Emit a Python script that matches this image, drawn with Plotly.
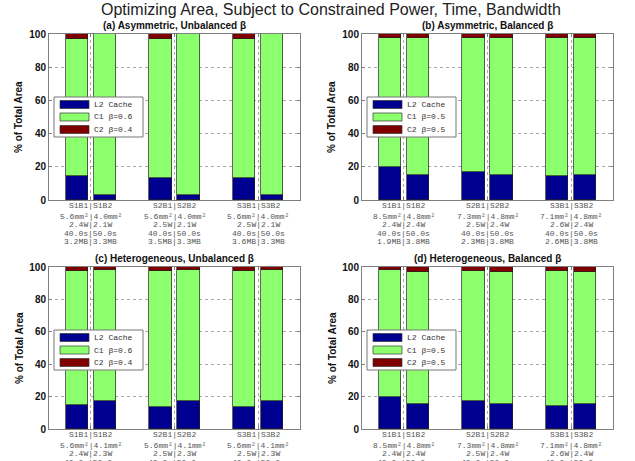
import plotly.graph_objects as go

# Figure size in pixels; all layout geometry below is laid out in pixels
W, H = 635, 461

# Bar positions: two bars (B1, B2) per system S1..S3
bar_x = [1, 2, 4, 5, 7, 8]
group_ticks = [1.5, 4.5, 7.5]

series_names = ["L2 Cache", "C1", "C2"]
series_colors = ["#000090", "#8CFF6C", "#800000"]

# (a) Asymmetric, Unbalanced beta
a_l2 = [14.5, 3.0, 13.5, 3.0, 13.5, 3.0]
a_c1 = [82.5, 97.0, 83.5, 97.0, 83.5, 97.0]
a_c2 = [3.0, 0.0, 3.0, 0.0, 3.0, 0.0]
a_ticks = [
    ["S1B1|S1B2", "5.6mm²|4.0mm²", "2.4W|2.1W", "40.0s|50.0s", "3.2MB|3.3MB"],
    ["S2B1|S2B2", "5.6mm²|4.0mm²", "2.5W|2.1W", "40.0s|50.0s", "3.5MB|3.3MB"],
    ["S3B1|S3B2", "5.6mm²|4.0mm²", "2.5W|2.1W", "40.0s|50.0s", "3.6MB|3.3MB"],
]

# (b) Asymmetric, Balanced beta
b_l2 = [20.0, 15.2, 16.8, 15.2, 14.2, 15.2]
b_c1 = [77.3, 82.1, 80.5, 82.1, 83.1, 82.1]
b_c2 = [2.7, 2.7, 2.7, 2.7, 2.7, 2.7]
b_ticks = [
    ["S1B1|S1B2", "8.5mm²|4.8mm²", "2.4W|2.4W", "40.0s|50.0s", "1.9MB|3.8MB"],
    ["S2B1|S2B2", "7.3mm²|4.8mm²", "2.5W|2.4W", "40.0s|50.0s", "2.3MB|3.8MB"],
    ["S3B1|S3B2", "7.1mm²|4.8mm²", "2.6W|2.4W", "40.0s|50.0s", "2.6MB|3.8MB"],
]

# (c) Heterogeneous, Unbalanced beta
c_l2 = [14.8, 17.5, 13.8, 17.5, 13.8, 17.5]
c_c1 = [82.5, 80.5, 83.5, 80.5, 83.5, 80.5]
c_c2 = [2.7, 2.0, 2.7, 2.0, 2.7, 2.0]
c_ticks = [
    ["S1B1|S1B2", "5.6mm²|4.1mm²", "2.4W|2.3W", "40.0s|50.0s"],
    ["S2B1|S2B2", "5.6mm²|4.1mm²", "2.5W|2.3W", "40.0s|50.0s"],
    ["S3B1|S3B2", "5.6mm²|4.1mm²", "2.5W|2.3W", "40.0s|50.0s"],
]

# (d) Heterogeneous, Balanced beta
d_l2 = [20.0, 15.4, 17.1, 15.4, 14.4, 15.4]
d_c1 = [77.9, 81.8, 80.6, 81.8, 83.0, 81.8]
d_c2 = [2.1, 2.8, 2.3, 2.8, 2.6, 2.8]
d_ticks = [
    ["S1B1|S1B2", "8.5mm²|4.8mm²", "2.4W|2.4W", "40.0s|50.0s"],
    ["S2B1|S2B2", "7.3mm²|4.8mm²", "2.5W|2.4W", "40.0s|50.0s"],
    ["S3B1|S3B2", "7.1mm²|4.8mm²", "2.6W|2.4W", "40.0s|50.0s"],
]

unbalanced_labels = ["L2 Cache", "C1 β=0.6", "C2 β=0.4"]
balanced_labels = ["L2 Cache", "C1 β=0.5", "C2 β=0.5"]

panels = [
    dict(title="(a) Asymmetric, Unbalanced β", l2=a_l2, c1=a_c1, c2=a_c2,
         ticks=a_ticks, legend=unbalanced_labels, box=(49, 300, 34, 200)),
    dict(title="(b) Asymmetric, Balanced β", l2=b_l2, c1=b_c1, c2=b_c2,
         ticks=b_ticks, legend=balanced_labels, box=(362, 613, 34, 200)),
    dict(title="(c) Heterogeneous, Unbalanced β", l2=c_l2, c1=c_c1, c2=c_c2,
         ticks=c_ticks, legend=unbalanced_labels, box=(49, 300, 267, 429)),
    dict(title="(d) Heterogeneous, Balanced β", l2=d_l2, c1=d_c1, c2=d_c2,
         ticks=d_ticks, legend=balanced_labels, box=(362, 613, 267, 429)),
]

# vertical offsets (px below the axis) of each tick-label line
tick_line_offsets = [5.5, 16.0, 24.5, 33.0, 41.5]


def px(x):
    return x / W


def py(y):
    return 1 - y / H


fig = go.Figure()
shapes = []
annotations = []
layout_axes = {}

AXIS_GRAY = "#7f7f7f"
GRID_GRAY = "#a8a8a8"
LABEL_FONT = dict(family="Liberation Sans", size=10, color="#111", weight="bold")
MONO_FONT = dict(family="Liberation Mono", size=8, color="#555")

for i, p in enumerate(panels, start=1):
    sfx = "" if i == 1 else str(i)
    xref, yref = "x" + sfx, "y" + sfx
    left, right, top, bottom = p["box"]

    for name, vals, color in zip(series_names, [p["l2"], p["c1"], p["c2"]], series_colors):
        fig.add_trace(go.Bar(
            x=bar_x, y=vals, name=name, width=0.8,
            marker=dict(color=color, line=dict(color="#222", width=0.7)),
            xaxis=xref, yaxis=yref, showlegend=False,
        ))

    layout_axes["xaxis" + sfx] = dict(
        domain=[px(left), px(right)], anchor=yref, range=[0, 9],
        tickvals=group_ticks, showticklabels=False,
        ticks="inside", ticklen=3, tickcolor=AXIS_GRAY,
        showline=True, linecolor=AXIS_GRAY, linewidth=1, mirror="ticks",
        showgrid=True, gridcolor=GRID_GRAY, griddash="dot", gridwidth=1,
        zeroline=False, automargin=False, fixedrange=True,
    )
    layout_axes["yaxis" + sfx] = dict(
        domain=[py(bottom), py(top)], anchor=xref, range=[0, 100],
        tickvals=[0, 20, 40, 60, 80, 100], tickfont=LABEL_FONT,
        ticks="inside", ticklen=3, tickcolor=AXIS_GRAY,
        showline=True, linecolor=AXIS_GRAY, linewidth=1, mirror="ticks",
        showgrid=True, gridcolor=GRID_GRAY, griddash="dot", gridwidth=1,
        zeroline=False, automargin=False, fixedrange=True,
    )

    # multi-line group labels under each pair of bars
    for gx, lines in zip(group_ticks, p["ticks"]):
        for off, line in zip(tick_line_offsets, lines):
            annotations.append(dict(
                text=line, x=gx, y=py(bottom + off), xref=xref, yref="paper",
                xanchor="center", yanchor="middle", showarrow=False, font=MONO_FONT,
            ))

    # panel title
    annotations.append(dict(
        text=p["title"], x=px((left + right) / 2), y=py(top - 9),
        xref="paper", yref="paper", xanchor="center", yanchor="middle",
        showarrow=False, font=LABEL_FONT,
    ))
    # y-axis title
    annotations.append(dict(
        text="% of Total Area", x=px(left - 30), y=py((top + bottom) / 2),
        xref="paper", yref="paper", xanchor="center", yanchor="middle",
        textangle=-90, showarrow=False, font=LABEL_FONT,
    ))

    # legend box inside the panel
    lx0, ly0 = left + 5, top + 63
    lx1, ly1 = lx0 + 89, ly0 + 40
    shapes.append(dict(type="rect", xref="paper", yref="paper",
                       x0=px(lx0), x1=px(lx1), y0=py(ly1), y1=py(ly0),
                       line=dict(color="#777", width=1), fillcolor="white", layer="above"))
    for k, (label, color) in enumerate(zip(p["legend"], series_colors)):
        cy = ly0 + 7.5 + k * 12.5
        shapes.append(dict(type="rect", xref="paper", yref="paper",
                           x0=px(lx0 + 6), x1=px(lx0 + 35), y0=py(cy + 4), y1=py(cy - 4),
                           line=dict(color="#333", width=0.7), fillcolor=color, layer="above"))
        annotations.append(dict(
            text=label, x=px(lx0 + 38), y=py(cy), xref="paper", yref="paper",
            xanchor="left", yanchor="middle", showarrow=False,
            font=dict(family="Liberation Mono", size=8, color="#333"),
        ))

# overall title
annotations.append(dict(
    text="Optimizing Area, Subject to Constrained Power, Time, Bandwidth",
    x=px(331), y=py(10), xref="paper", yref="paper", xanchor="center", yanchor="middle",
    showarrow=False, font=dict(family="Liberation Sans", size=16, color="#222"),
))

fig.update_layout(
    width=W, height=H, margin=dict(l=0, r=0, t=0, b=0),
    paper_bgcolor="white", plot_bgcolor="white",
    barmode="stack", bargap=0, showlegend=False,
    shapes=shapes, annotations=annotations, **layout_axes,
)

fig.write_html("out.html", config={"displayModeBar": False})
